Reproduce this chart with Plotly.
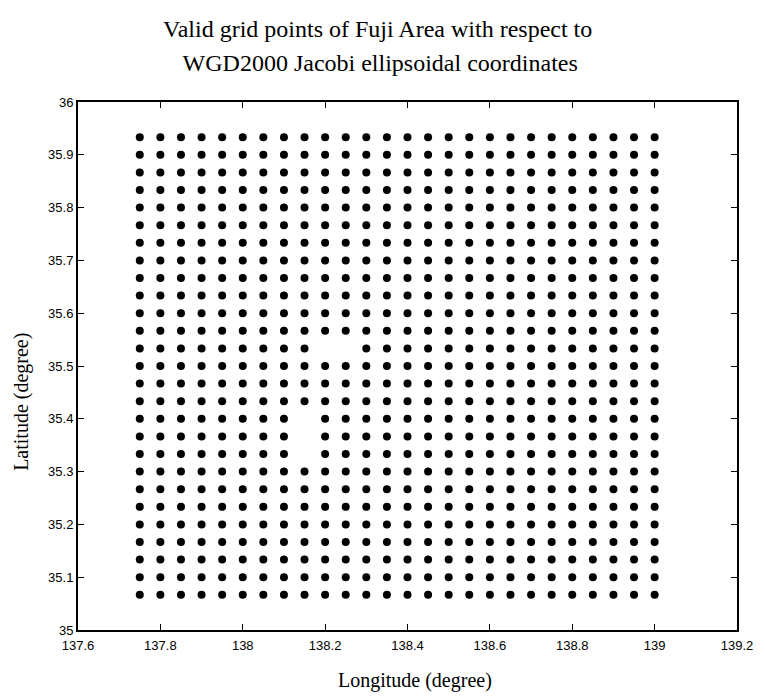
import plotly.graph_objects as go

# Grid longitudes (degree) – 26 columns
longitudes = [137.75, 137.80, 137.85, 137.90, 137.95, 138.00, 138.05, 138.10,
              138.15, 138.20, 138.25, 138.30, 138.35, 138.40, 138.45, 138.50,
              138.55, 138.60, 138.65, 138.70, 138.75, 138.80, 138.85, 138.90,
              138.95, 139.00]

# Grid latitudes (degree) – 27 rows (2' spacing)
latitudes = [35.0667, 35.1000, 35.1333, 35.1667, 35.2000, 35.2333, 35.2667,
             35.3000, 35.3333, 35.3667, 35.4000, 35.4333, 35.4667, 35.5000,
             35.5333, 35.5667, 35.6000, 35.6333, 35.6667, 35.7000, 35.7333,
             35.7667, 35.8000, 35.8333, 35.8667, 35.9000, 35.9333]

# Grid points that are not valid (lon, lat)
invalid_points = [(138.20, 35.5333), (138.25, 35.5333),
                  (138.15, 35.4000), (138.15, 35.3667), (138.15, 35.3333)]

x_tickvals = [137.6, 137.8, 138.0, 138.2, 138.4, 138.6, 138.8, 139.0, 139.2]
x_ticktext = ["137.6", "137.8", "138", "138.2", "138.4", "138.6", "138.8", "139", "139.2"]
y_tickvals = [35.0, 35.1, 35.2, 35.3, 35.4, 35.5, 35.6, 35.7, 35.8, 35.9, 36.0]
y_ticktext = ["35", "35.1", "35.2", "35.3", "35.4", "35.5", "35.6", "35.7", "35.8", "35.9", "36"]

title_lines = ["Valid grid points of Fuji Area with respect to",
               " WGD2000 Jacobi ellipsoidal coordinates"]

invalid = {(round(a, 4), round(b, 4)) for a, b in invalid_points}
xs, ys = [], []
for lat in latitudes:
    for lon in longitudes:
        if (round(lon, 4), round(lat, 4)) in invalid:
            continue
        xs.append(lon)
        ys.append(lat)

fig = go.Figure()
fig.add_trace(go.Scatter(
    x=xs, y=ys, mode="markers",
    marker=dict(color="black", size=8, symbol="circle", line=dict(width=0)),
    hoverinfo="x+y", showlegend=False,
))

axis_common = dict(
    showline=True, linecolor="black", linewidth=2, mirror="ticks",
    ticks="inside", ticklen=6, tickwidth=1, tickcolor="black",
    showgrid=False, zeroline=False,
    tickfont=dict(family="Liberation Sans, Arial", size=13, color="black"),
)

# The page body has an 8px default margin, so the figure is laid out
# in coordinates shifted by 8px from the screenshot.
FW, FH = 757, 684
L, R, T, B = 70, 739, 94, 622
W, H = R - L, B - T

fig.update_layout(
    width=FW, height=FH,
    margin=dict(l=L, r=FW - R, t=T, b=FH - B),
    paper_bgcolor="white", plot_bgcolor="white",
    xaxis=dict(range=[137.6, 139.2], tickvals=x_tickvals, ticktext=x_ticktext,
               ticklabelstandoff=2, **axis_common),
    yaxis=dict(range=[35.0, 36.0], tickvals=y_tickvals, ticktext=y_ticktext, **axis_common),
)

serif = "Liberation Serif, Times New Roman"
for line, cy in zip(title_lines, [21, 55]):
    fig.add_annotation(
        text=line, xref="paper", yref="paper",
        x=(374 - L) / W, y=(B - cy) / H, xanchor="center", yanchor="middle",
        showarrow=False, font=dict(family=serif, size=24, color="black"),
    )

fig.add_annotation(
    text="Longitude (degree)", xref="paper", yref="paper",
    x=(412 - L) / W, y=-(672 - B) / H, xanchor="center", yanchor="middle",
    showarrow=False, font=dict(family=serif, size=20, color="black"),
)
fig.add_annotation(
    text="Latitude (degree)", xref="paper", yref="paper",
    x=(13 - L) / W, y=(B - 394) / H, xanchor="center", yanchor="middle",
    textangle=-90, showarrow=False, font=dict(family=serif, size=20, color="black"),
)

fig.write_html("out.html")
